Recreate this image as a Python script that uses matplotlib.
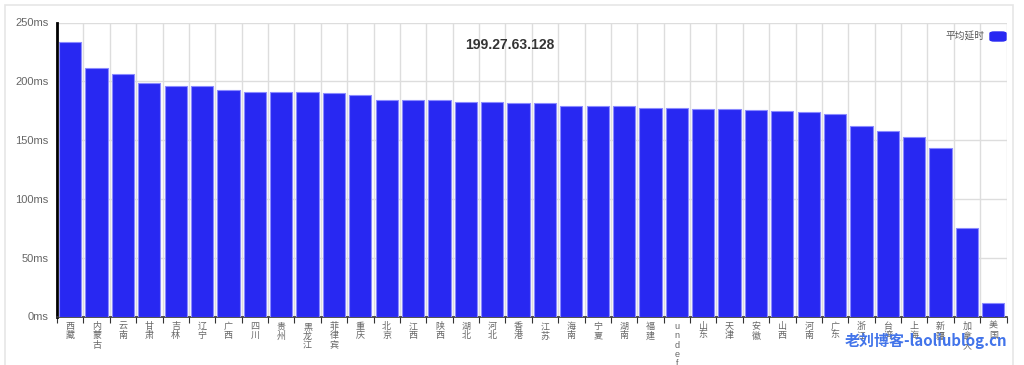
import matplotlib
matplotlib.use("Agg")
import matplotlib.pyplot as plt
import numpy as np
from matplotlib.patches import FancyBboxPatch, Rectangle

plt.rcParams["font.family"] = ["Liberation Sans", "Noto Sans CJK SC", "DejaVu Sans"]

# Data
regions = [
    "西藏", "内蒙古", "云南", "甘肃", "吉林", "辽宁", "广西", "四川", "贵州",
    "黑龙江", "菲律宾", "重庆", "北京", "江西", "陕西", "湖北", "河北", "香港",
    "江苏", "海南", "宁夏", "湖南", "福建", "undefined", "山东", "天津", "安徽",
    "山西", "河南", "广东", "浙江", "台湾", "上海", "新疆", "加拿大", "美国",
]
latency_ms = [
    233.5, 211.4, 206.0, 198.6, 196.4, 195.6, 192.2, 191.3, 190.7,
    190.7, 190.1, 188.4, 184.2, 184.2, 183.7, 182.8, 182.0, 181.4,
    181.4, 179.4, 179.4, 179.4, 177.7, 177.7, 176.3, 176.3, 175.4,
    174.9, 173.5, 172.6, 162.4, 157.9, 152.8, 142.9, 74.9, 11.2,
]
y_ticks = [0, 50, 100, 150, 200, 250]
title = "199.27.63.128"
series_name = "平均延时"

W, H = 1024, 365
fig = plt.figure(figsize=(W / 100, H / 100), dpi=100)
fig.patch.set_facecolor("white")

# outer light frame
fig.patches.append(Rectangle((5 / W, -0.1), 1008 / W, 1.1 - 5 / H,
                             transform=fig.transFigure, fill=False,
                             edgecolor="#e6e6e6", linewidth=1.2))

ax = fig.add_axes([57 / W, 1 - 316.5 / H, 949.5 / W, 294 / H])
n = len(regions)
x = np.arange(n)

ax.bar(x, latency_ms, width=0.84, color="#2828f2", edgecolor="#8a8aff",
       linewidth=0.8, zorder=3)

ax.set_xlim(-0.5, n - 0.5)
ax.set_ylim(0, 250)
ax.set_yticks(y_ticks)
ax.set_yticklabels([f"{v}ms" for v in y_ticks], fontsize=8, color="#666666")

# category boundaries for grid and ticks
bounds = np.arange(-0.5, n + 0.5, 1)
ax.set_xticks(bounds, minor=True)
ax.set_xticks(x)
ax.set_xticklabels(["\n".join(r) for r in regions], fontsize=6.5, color="#666666",
                   linespacing=1.05, va="top")
ax.tick_params(axis="x", which="major", length=0, pad=4)
ax.tick_params(axis="x", which="minor", length=4, color="#333333", width=0.8)
ax.tick_params(axis="y", length=0, pad=6)

ax.grid(True, which="minor", axis="x", color="#dddddd", linewidth=1, zorder=0)
ax.grid(True, which="major", axis="y", color="#dddddd", linewidth=1, zorder=0)
ax.set_axisbelow(True)

for side in ("top", "right"):
    ax.spines[side].set_visible(False)
ax.spines["left"].set_color("black")
ax.spines["left"].set_linewidth(2)
ax.spines["bottom"].set_color("#333333")
ax.spines["bottom"].set_linewidth(1.2)

fig.text(510 / W, 1 - 45 / H, title, ha="center", va="center",
         fontsize=10, fontweight="bold", color="#333333")

# legend
fig.text(985 / W, 1 - 36 / H, series_name, ha="right", va="center",
         fontsize=7, color="#555555")
fig.patches.append(FancyBboxPatch((990 / W, 1 - 41 / H), 16 / W, 9 / H,
                                  boxstyle="round,pad=0,rounding_size=0.004",
                                  transform=fig.transFigure,
                                  facecolor="#2828f2", edgecolor="#2828f2"))

# watermark
fig.text(926 / W, 1 - 341 / H, "老刘博客-laoliublog.cn", ha="center", va="center",
         fontsize=10.8, fontweight="bold", color="#4274ea",
         family=["Noto Sans CJK SC", "DejaVu Sans"])

fig.savefig("out.png", dpi=100)
